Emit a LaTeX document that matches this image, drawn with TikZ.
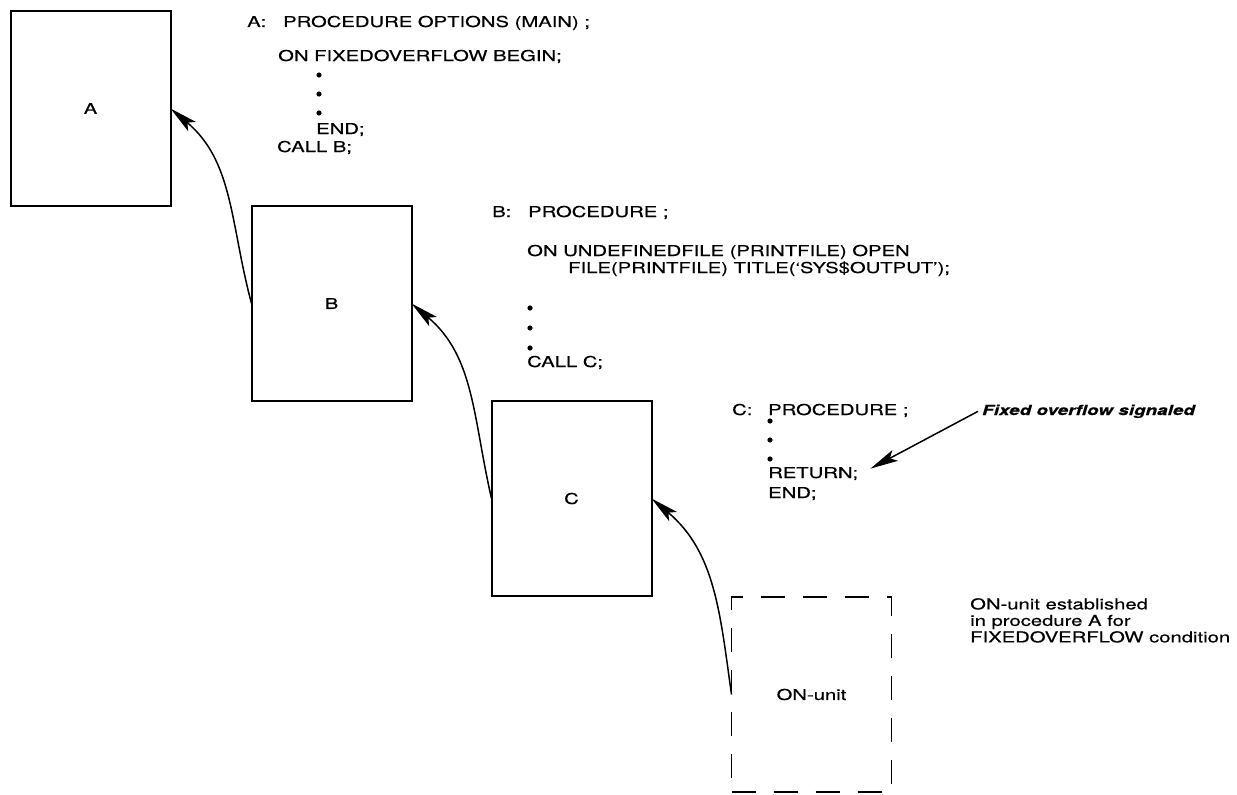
\documentclass[tikz,border=0pt]{standalone}
\usepackage{fontspec}
\setmainfont[FakeStretch=1.35, FakeBold=0.4]{TeX Gyre Heros}
\usetikzlibrary{arrows.meta,positioning}

\newcommand{\codefont}{\fontsize{15}{16.5}\selectfont}
\newcommand{\sigfont}{\fontsize{14}{16}\selectfont\bfseries\itshape}
\newcommand{\proclbl}[1]{\makebox[36pt][l]{#1}}

\begin{document}
\begin{tikzpicture}[
    x=1pt, y=1pt,
    proc/.style={rectangle, draw=black, line width=2pt, minimum width=160pt, minimum height=195pt, inner sep=0pt, outer sep=0pt, font=\codefont},
    onunit/.style={proc, line width=1.8pt, dash pattern=on 24pt off 18pt},
    code/.style={anchor=base west, inner sep=0pt, font=\codefont},
    note/.style={anchor=north west, inner sep=0pt, align=left, font=\codefont},
    arrow/.style={-{Stealth[length=28pt, width=12pt, inset=6pt]}, line width=1.5pt},
    dot/.style={fill=black}
]
\useasboundingbox (0,0) rectangle (1237,-795);

% Procedure boxes
\node (A) [proc] at (90.5,-108.5) {A};
\node (B) [proc, below right=0pt and 81pt of A.south east] {B};
\node (C) [proc, below right=0pt and 80pt of B.south east] {C};
\node (ON) [onunit, below right=1pt and 80pt of C.south east] {ON-unit};

% Procedure A
\node (Ahead) [code] at (247,-27) {\proclbl{A:}PROCEDURE OPTIONS (MAIN) ;};
\node (Aon) [code] at (278,-61) {ON FIXEDOVERFLOW BEGIN;};
\node (Aend) [code] at (316,-134) {END;};
\node (Acall) [code] at (277,-152) {CALL B;};
\foreach \y in {75,94,113} \fill[dot] (319,-\y) circle (2.6pt);

% Procedure B
\node (Bhead) [code] at (492,-217) {\proclbl{B:}PROCEDURE ;};
\node (Bon) [code] at (527,-256) {ON UNDEFINEDFILE (PRINTFILE) OPEN};
\node (Bfile) [code] at (568,-273) {FILE(PRINTFILE) TITLE(`SYS\$OUTPUT');};
\node (Bcall) [code] at (527,-367) {CALL C;};
\foreach \y in {308,328,348} \fill[dot] (530,-\y) circle (2.6pt);

% Procedure C
\node (Chead) [code] at (732,-415) {\proclbl{C:}PROCEDURE ;};
\node (ret) [code] at (768,-478) {RETURN;};
\node (Cend) [code] at (768,-498) {END;};
\foreach \y in {421,440,459} \fill[dot] (770,-\y) circle (2.6pt);

% Notes
\node (sig) [code, font=\sigfont, inner sep=4pt] at (978,-415) {Fixed overflow signaled};
\coordinate (hit) at ([xshift=12pt, yshift=5pt]ret.east);
\node (est) [note] at (970,-598) {ON-unit established\\in procedure A for\\FIXEDOVERFLOW condition};

% Arrows
\draw [arrow] (B.west) to[out=105, in=-40] (A.east);
\draw [arrow] (C.west) to[out=103, in=-40] (B.east);
\draw [arrow] (ON.west) to[out=98, in=-40] (C.east);
\draw [arrow] (sig.west) -- (hit);

\end{tikzpicture}
\end{document}
